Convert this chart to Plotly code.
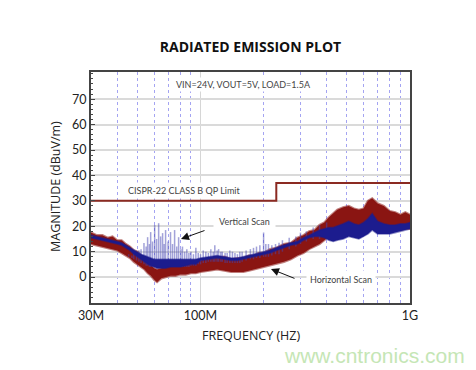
import math
import plotly.graph_objects as go

# ---------------- data ----------------
freq_mhz = [30, 32, 34, 36, 38, 40, 42, 44, 46, 48, 50, 52, 54, 56, 58, 60, 62, 65, 68, 72,
            76, 80, 85, 90, 95, 100, 110, 120, 130, 140, 150, 160, 170, 180, 190, 200, 215,
            230, 250, 270, 290, 310, 330, 350, 370, 390, 410, 430, 450, 480, 510, 540, 570,
            600, 630, 660, 700, 750, 800, 850, 900, 950, 1000]

horiz_hi = [17.5, 16.5, 16.5, 15.5, 16, 14.5, 14.5, 13, 12, 10.5, 10, 8.5, 7.5, 6, 5, 3.5, 3,
            3.5, 4.5, 4, 5, 5, 5.5, 5.5, 6.5, 6.5, 7.5, 7.5, 8, 7, 7.5, 7.5, 8.5, 8.5, 9.5,
            9.5, 11, 11.5, 13, 13.5, 15.5, 16.5, 18, 18.5, 20.5, 21.5, 23.5, 25, 26.5, 27.5, 28,
            27, 26.5, 27, 30, 31, 29, 28, 26, 25.5, 24.5, 25.5, 24.5]
horiz_lo = [13, 12.5, 12, 11.5, 11, 10.5, 9.5, 8.5, 7.5, 6, 5, 4, 3, 1.5, 0.5, -1, -2, -0.5,
            0, 0.5, 0.5, 1, 1, 1.5, 1.5, 2, 2.5, 3, 2.5, 2, 2, 2, 2.5, 3, 3.5, 4, 4.5, 5, 6, 7,
            8.5, 9.5, 11, 12, 13, 14.5, 16, 18, 19, 20, 20.5, 20, 19.5, 20, 22, 23, 21.5, 20,
            19, 18.5, 18.5, 19, 19]

vert_hi = [16.5, 16, 15.5, 15, 14.5, 14, 13.5, 12.5, 11.5, 10.5, 9.5, 9, 8.5, 8, 7.5, 7, 7,
           7, 7, 7, 7, 7, 7, 7, 7, 7.5, 8, 8.5, 8, 7.5, 7.5, 8, 8.5, 9, 9.5, 10, 10.5, 11.5,
           12.5, 13.5, 14, 15.5, 16.5, 17.5, 18.5, 19, 19.5, 19.5, 20, 21, 22, 21, 20.5, 21.5,
           23, 25, 22, 21, 20.5, 20.5, 21, 21, 21.5]
vert_lo = [15.5, 15, 14.5, 14, 13.5, 13, 12.5, 11.5, 10.5, 9, 8, 7, 6, 5, 4.5, 4, 3.5, 3.5,
           3.5, 4, 4, 4, 4.5, 5, 5, 6.5, 7, 7.5, 7, 6.5, 6.5, 7, 7.5, 8, 8.5, 9, 9.5, 10.5,
           11.5, 12.5, 13, 14.5, 15.5, 16, 16, 15.5, 14.5, 14, 14.5, 15, 16, 15.5, 15, 16, 17,
           18.5, 17, 17, 17, 17.5, 18, 18.5, 19]

spike_mhz = [45.4, 47, 48, 49.5, 50.8, 52, 53.7, 55, 55.9, 57, 57.8, 59, 60.4, 61.7, 63.1, 64.5,
             65.9, 67, 68.1, 70, 71.9, 73.5, 75.2, 77, 78.6, 80.5, 82, 84, 86, 88, 90, 92.5, 95,
             97.5, 100, 103, 106, 109, 112, 115, 117, 120, 122, 125, 127, 131, 134, 138, 142,
             146, 150, 154, 158, 165, 173, 179, 185, 192, 200, 205, 211, 219, 228, 237, 246,
             265, 285, 300, 320, 345, 370, 400]
spike_top = [9, 8.5, 10, 9, 10.6, 11, 13.4, 12, 15.7, 13, 17.7, 14, 20.5, 15, 21.2, 16, 17.3,
             13, 18.5, 14, 17.7, 13, 18.5, 12, 15.7, 11, 12, 10, 11, 9.5, 10, 9, 11.5, 9.5, 9,
             10.5, 10, 9.5, 11, 10, 12.5, 10.5, 11, 10, 10, 9.5, 9.5, 10.5, 10, 9.5, 9, 10, 10,
             10.5, 11, 11.5, 12, 12.5, 19.3, 13, 13, 12.5, 13, 13.5, 14.5,
             15.5, 16, 17.5, 18, 19.5, 20.5, 21.5]
spike_base = [8, 7.5, 7, 6.5, 6, 5.5, 5, 4.5, 4.5, 4, 4, 4, 4, 4, 4, 4, 4, 4, 4, 4, 4, 4, 4, 4,
              4, 4, 4, 4, 4, 4, 4.5, 4.5, 4.5, 5, 5, 5.5, 5.5, 6, 6, 6, 6, 6, 6, 6, 6, 5.5, 5.5,
              5.5, 5.5, 5.5, 5.5, 5.5, 6, 6.5, 7, 7, 7.5, 7.5, 8, 8, 8, 8.5, 9, 9, 10,
              11, 12, 13, 14, 15, 15, 15]

limit_mhz = [30, 230, 230, 1000]
limit_db = [30, 30, 37, 37]

x_tick_hz = [30e6, 100e6, 1e9]
x_tick_text = ["30M", "100M", "1G"]
minor_grid_mhz = [40, 50, 60, 70, 80, 90, 200, 300, 400, 500, 600, 700, 800, 900]
y_ticks = [0, 10, 20, 30, 40, 50, 60, 70]

# ---------------- figure ----------------
hz = lambda arr: [v * 1e6 for v in arr]
FONT = "Open Sans"
NOTE_FONT = "Lato"
RED = "#8a1512"
BLUE = "#1c1c8e"

fig = go.Figure()

# horizontal scan band (red)
fig.add_trace(go.Scatter(x=hz(freq_mhz), y=horiz_lo, mode="lines",
                         line=dict(color="rgba(138,21,18,0.55)", width=2.2),
                         showlegend=False, hoverinfo="skip"))
fig.add_trace(go.Scatter(x=hz(freq_mhz), y=horiz_hi, mode="lines", fill="tonexty",
                         fillcolor=RED, line=dict(color="rgba(138,21,18,0.55)", width=2.2),
                         showlegend=False, hoverinfo="skip"))

# vertical scan spikes
sx, sy = [], []
for f, b, t in zip(spike_mhz, spike_base, spike_top):
    sx += [f * 1e6, f * 1e6, None]
    sy += [b, t, None]
fig.add_trace(go.Scatter(x=sx, y=sy, mode="lines",
                         line=dict(color="rgba(70,70,180,0.5)", width=1.5),
                         showlegend=False, hoverinfo="skip"))

# vertical scan band (blue)
fig.add_trace(go.Scatter(x=hz(freq_mhz), y=vert_lo, mode="lines",
                         line=dict(color="rgba(28,28,142,0.5)", width=1.6),
                         showlegend=False, hoverinfo="skip"))
fig.add_trace(go.Scatter(x=hz(freq_mhz), y=vert_hi, mode="lines", fill="tonexty",
                         fillcolor=BLUE, line=dict(color="rgba(28,28,142,0.5)", width=1.6),
                         showlegend=False, hoverinfo="skip"))

# limit line
fig.add_trace(go.Scatter(x=hz(limit_mhz), y=limit_db, mode="lines",
                         line=dict(color="#8b2a22", width=2), showlegend=False,
                         hoverinfo="skip"))

xr = [math.log10(30e6), 9.0]
yr = [-10.2, 80.7]

fig.update_layout(
    width=476, height=370,
    margin=dict(l=91, r=66, t=72, b=67),
    paper_bgcolor="white", plot_bgcolor="white",
    font=dict(family=FONT, color="#222"),
    title=dict(text="<b>RADIATED EMISSION PLOT</b>", x=0.5, xref="paper",
               y=1 - 47 / 370, yref="container", yanchor="middle", xanchor="center",
               font=dict(size=14, color="#111", family=FONT)),
    xaxis=dict(type="log", range=xr, tickvals=x_tick_hz, ticktext=x_tick_text,
               showgrid=True, gridcolor="#d6d6d6", gridwidth=1,
               minor=dict(tickvals=hz(minor_grid_mhz), showgrid=True,
                          gridcolor="#a4a4f2", griddash="dot", gridwidth=1, ticklen=0),
               showline=True, linecolor="#444", linewidth=2, mirror=True,
               ticks="", tickfont=dict(size=12.5, color="#222", family=NOTE_FONT),
               zeroline=False),
    yaxis=dict(range=yr, tickvals=y_ticks, showgrid=True, gridcolor="#dadada",
               gridwidth=1.5, showline=True, linecolor="#444", linewidth=2, mirror=True,
               ticks="inside", ticklen=4, tickcolor="#444",
               minor=dict(dtick=2, ticks="inside", ticklen=2, tickcolor="#444",
                          showgrid=False),
               tickfont=dict(size=12.5, color="#222", family=NOTE_FONT), zeroline=False),
)


def note(text, px, py, **kw):
    fig.add_annotation(text=text, xref="paper", yref="paper",
                       x=(px - 91) / 319, y=(303 - py) / 231,
                       xanchor="center", yanchor="middle", showarrow=False, **kw)


ann_font = dict(family=NOTE_FONT, size=9, color="#444")
note("VIN=24V, VOUT=5V, LOAD=1.5A", 243, 84, bgcolor="white", font=ann_font)
note("CISPR-22 CLASS B QP Limit", 184, 190, bgcolor="white", borderpad=2, font=ann_font)
note("Vertical Scan", 244, 221, bgcolor="white", borderpad=5, font=ann_font)
note("Horizontal Scan", 341, 279, bgcolor="white", borderpad=3, font=ann_font)
note("MAGNITUDE (dBuV/m)", 55, 187, textangle=-90,
     font=dict(family=FONT, size=12.5, color="#222"))
note("FREQUENCY (HZ)", 250.5, 335, font=dict(family=FONT, size=12.5, color="#222"))
note("www.cntronics.com", 374, 355,
     font=dict(family="Liberation Sans", size=21, color="#c5e6b5"))

# arrows
fig.add_annotation(text="", xref="paper", yref="paper",
                   x=(181 - 91) / 319, y=(303 - 239) / 231, ax=25, ay=-9,
                   showarrow=True, arrowhead=2, arrowsize=1.6, arrowwidth=1,
                   arrowcolor="#111")
fig.add_annotation(text="", xref="paper", yref="paper",
                   x=(271 - 91) / 319, y=(303 - 269) / 231, ax=25, ay=10,
                   showarrow=True, arrowhead=2, arrowsize=1.6, arrowwidth=1,
                   arrowcolor="#111")

fig.write_html("out.html", post_script="document.body.style.margin='0';",
               config={"displayModeBar": False})
